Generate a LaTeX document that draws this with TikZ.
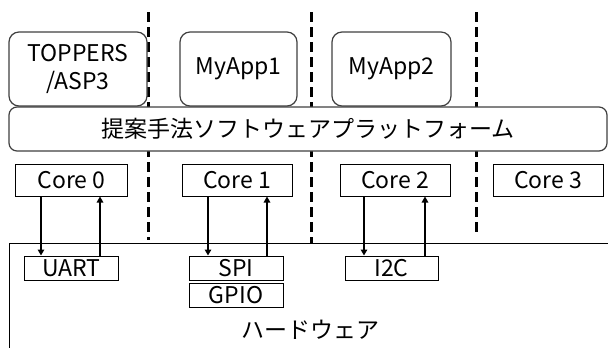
\documentclass[tikz,border=0pt]{standalone}
\usepackage{fontspec}
\setmainfont{Noto Sans CJK JP}
\usetikzlibrary{arrows.meta}
\begin{document}
\begin{tikzpicture}[x=1bp,y=-1bp,
  every node/.style={font=\fontsize{23bp}{28bp}\selectfont, inner sep=0pt, align=center},
  appbox/.style={draw=black!75, line width=1.2bp, fill=white, rounded corners=10bp},
  platbox/.style={draw=black!75, line width=1.2bp, fill=white, rounded corners=8bp},
  corebox/.style={draw=black, line width=1bp, fill=white, minimum width=110bp, minimum height=32bp},
  iobox/.style={draw=black, line width=1bp, fill=white, minimum height=24bp},
  sep/.style={line width=3bp, dash pattern=on 10bp off 5bp},
  link/.style={line width=2bp, -{Triangle[length=6bp,width=6.5bp]}}]
\clip (0,0) rectangle (608,347);
% separators
\coordinate (s1a) at (148.5,12); \coordinate (s1b) at (148.5,240);
\coordinate (s2a) at (311.5,12); \coordinate (s2b) at (311.5,243);
\coordinate (s3a) at (476.5,12); \coordinate (s3b) at (476.5,236);
\draw[sep] (s1a) -- (s1b);
\draw[sep] (s2a) -- (s2b);
\draw[sep] (s3a) -- (s3b);
% hardware
\draw[line width=1bp, fill=white] (9,360) -- (9,243) -- (620,243) -- (620,360);
\node (hw) at (310,330) {ハードウェア};
% apps
\node[appbox, minimum width=138bp, minimum height=74bp] (toppers) at (78,69) {TOPPERS\\/ASP3};
\node[appbox, minimum width=117bp, minimum height=74bp] (app1) at (238.5,69) {MyApp1};
\node[appbox, minimum width=119bp, minimum height=74bp] (app2) at (391.5,69) {MyApp2};
\node[platbox, minimum width=598bp, minimum height=44bp] (plat) at (308,129) {提案手法ソフトウェアプラットフォーム};
% cores
\node[corebox, minimum width=111bp] (c0) at (71.5,180) {Core 0};
\node[corebox] (c1) at (237,180) {Core 1};
\node[corebox] (c2) at (395,180) {Core 2};
\node[corebox] (c3) at (548,180) {Core 3};
% io
\node[iobox, minimum width=93bp] (uart) at (71.5,268) {UART};
\node[iobox, minimum width=94bp] (spi) at (236,268) {SPI};
\node[iobox, minimum width=94bp] (gpio) at (236,295) {GPIO};
\node[iobox, minimum width=93bp] (i2c) at (391.5,268) {I2C};
% arrows
\coordinate (a0d) at (41,0); \coordinate (a0u) at (100,0);
\coordinate (a1d) at (208,0); \coordinate (a1u) at (267,0);
\coordinate (a2d) at (364,0); \coordinate (a2u) at (425,0);
\draw[link] (c0.south -| a0d) -- (uart.north -| a0d);
\draw[link] (uart.north -| a0u) -- (c0.south -| a0u);
\draw[link] (c1.south -| a1d) -- (spi.north -| a1d);
\draw[link] (spi.north -| a1u) -- (c1.south -| a1u);
\draw[link] (c2.south -| a2d) -- (i2c.north -| a2d);
\draw[link] (i2c.north -| a2u) -- (c2.south -| a2u);
\end{tikzpicture}
\end{document}
